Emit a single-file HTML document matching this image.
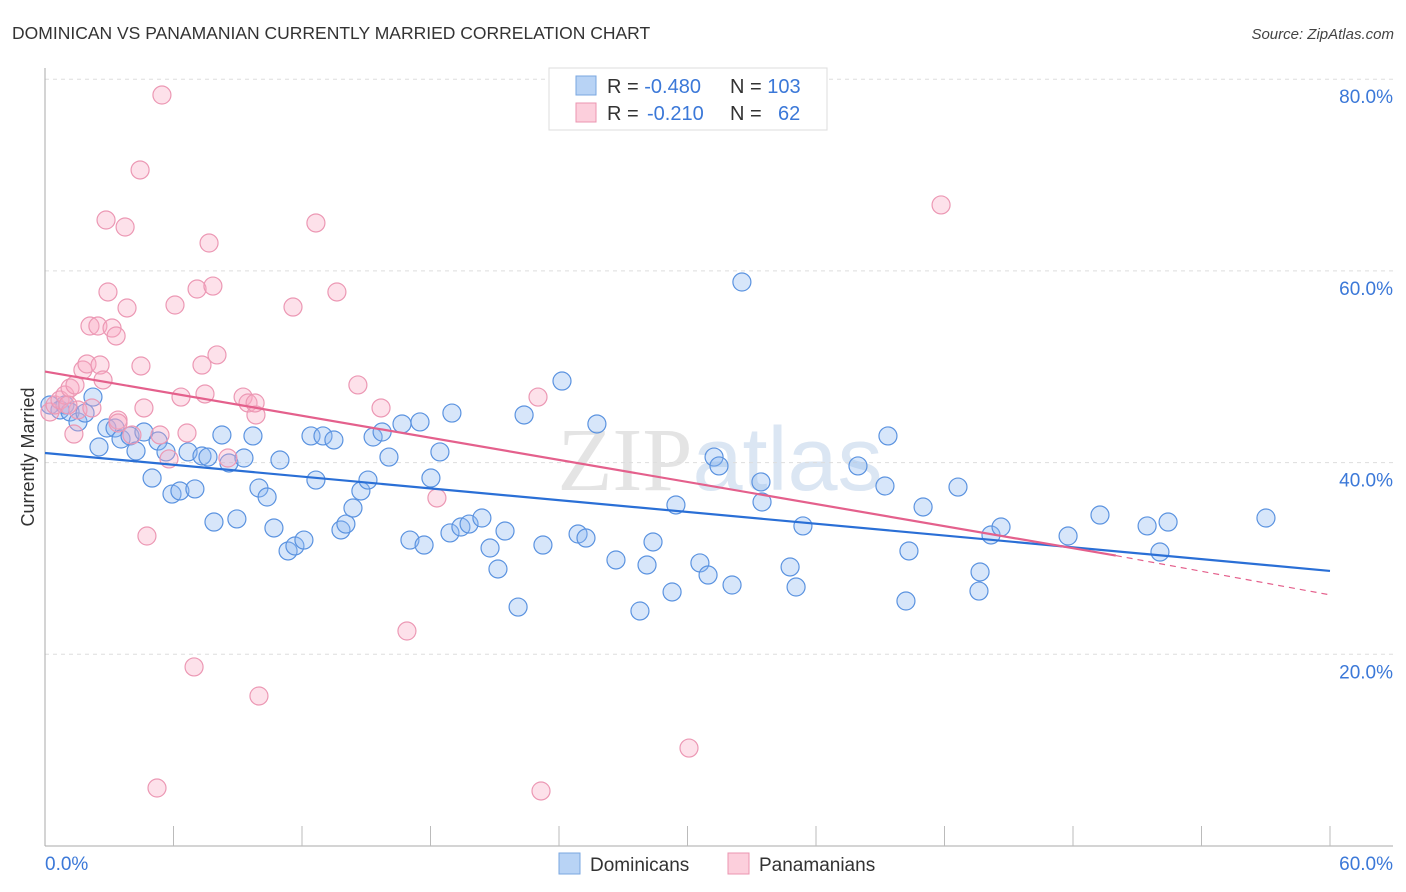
<!DOCTYPE html>
<html><head><meta charset="utf-8"><style>
body{margin:0;background:#fff;font-family:"Liberation Sans",sans-serif;}
svg{display:block}
</style></head><body>
<svg id="chart" width="1406" height="892" viewBox="0 0 1406 892" xmlns="http://www.w3.org/2000/svg">
<text x="12" y="39" font-size="17.5" fill="#333">DOMINICAN VS PANAMANIAN CURRENTLY MARRIED CORRELATION CHART</text>
<text x="1394" y="39" font-size="15" fill="#444" font-style="italic" text-anchor="end">Source: ZipAtlas.com</text>
<text x="720" y="490" font-size="90" fill="#e4e4e4" text-anchor="middle" font-family="Liberation Serif">ZIP<tspan fill="#dbe6f3" font-family="Liberation Sans">atlas</tspan></text>
<g id="grid"></g>
<g id="axes"></g>
<g id="pts"></g>
<g id="trends"></g>
<text transform="translate(34,457) rotate(-90)" font-size="18" fill="#333" text-anchor="middle">Currently Married</text>
<g>
<rect x="549" y="68" width="278" height="62" fill="#fff" stroke="#ddd"/>
<rect x="576" y="76" width="20" height="19" fill="#b8d3f5" stroke="#7aa7e0"/>
<rect x="576" y="103" width="20" height="19" fill="#fccfdc" stroke="#eb95b0"/>
<text x="607" y="93" font-size="20" fill="#333">R = <tspan fill="#3b78d8">-0.480</tspan><tspan x="730">N = </tspan><tspan fill="#3b78d8">103</tspan></text>
<text x="607" y="120" font-size="20" fill="#333">R = <tspan x="647" fill="#3b78d8">-0.210</tspan><tspan x="730">N = </tspan><tspan x="778" fill="#3b78d8">62</tspan></text>
</g>
<g>
<rect x="559" y="853" width="21" height="21" fill="#b8d3f5" stroke="#7aa7e0"/>
<text x="590" y="871" font-size="19" fill="#333">Dominicans</text>
<rect x="728" y="853" width="21" height="21" fill="#fccfdc" stroke="#eb95b0"/>
<text x="759" y="871" font-size="19" fill="#333">Panamanians</text>
</g>
</svg>
<script>
const yTicks=[20,40,60,80];
const xTickLabels=["0.0%","60.0%"];
const bluePx=[[50,405],[60,410],[65,405],[70,412],[78,422],[85,413],[93,397],[99,447],[107,428],[115,428],[121,439],[130,436],[136,451],[144,432],[152,478],[158,441],[166,452],[172,494],[180,491],[188,452],[195,489],[202,456],[208,457],[214,522],[222,435],[229,463],[237,519],[244,458],[253,436],[259,488],[267,497],[274,528],[280,460],[288,551],[295,546],[304,540],[311,436],[316,480],[323,436],[334,440],[341,530],[346,524],[353,508],[361,491],[368,480],[373,437],[382,432],[389,457],[402,424],[410,540],[420,422],[424,545],[431,478],[440,452],[452,413],[450,533],[461,527],[469,524],[482,518],[490,548],[498,569],[505,531],[518,607],[524,415],[543,545],[562,381],[578,534],[586,538],[597,424],[616,560],[640,611],[647,565],[653,542],[672,592],[676,505],[700,563],[708,575],[714,457],[719,466],[732,585],[742,282],[761,482],[762,502],[790,567],[796,587],[803,526],[858,466],[885,486],[888,436],[906,601],[909,551],[923,507],[958,487],[980,572],[979,591],[991,535],[1001,527],[1068,536],[1100,515],[1147,526],[1160,552],[1168,522],[1266,518]];
const pinkPx=[[50,412],[55,405],[60,400],[65,395],[70,388],[75,385],[78,410],[83,370],[87,364],[92,408],[74,434],[90,326],[98,326],[100,365],[106,220],[108,292],[112,328],[116,336],[118,420],[125,227],[127,308],[132,435],[140,170],[141,366],[144,408],[147,536],[157,788],[160,435],[162,95],[169,459],[175,305],[181,397],[187,433],[194,667],[197,289],[202,365],[205,394],[209,243],[213,286],[217,355],[228,458],[243,397],[248,403],[256,415],[255,403],[259,696],[293,307],[316,223],[337,292],[358,385],[381,408],[407,631],[437,498],[538,397],[541,791],[689,748],[941,205],[118,423],[103,380],[68,405]];
const blueX=bluePx.map(p=>+((p[0]-45)*60/1285).toFixed(2));
const blueY=bluePx.map(p=>+((846-p[1])/9.585).toFixed(2));
const pinkX=pinkPx.map(p=>+((p[0]-45)*60/1285).toFixed(2));
const pinkY=pinkPx.map(p=>+((846-p[1])/9.585).toFixed(2));
const blueTrend=[41.0,28.7];
const pinkTrend=[49.5,30.3,26.2];
const X=v=>45+v*1285/60, Y=v=>846-v*9.585;
const NS="http://www.w3.org/2000/svg";
function mk(tag,attrs,parent){const e=document.createElementNS(NS,tag);for(const k in attrs)e.setAttribute(k,attrs[k]);parent.appendChild(e);return e;}
const grid=document.getElementById('grid'),axes=document.getElementById('axes'),pts=document.getElementById('pts'),tr=document.getElementById('trends');
yTicks.forEach(t=>{
 const l=mk('line',{x1:45,y1:Y(t),x2:1393,y2:Y(t),stroke:'#ddd','stroke-dasharray':'4,4'},grid);
 
 
 const tx=mk('text',{x:1393,y:Y(t)+24,'font-size':19,fill:'#3b78d8','text-anchor':'end'},axes);
 tx.textContent=t.toFixed(1)+'%';
 
 
});
const ya=mk('line',{x1:45,y1:68,x2:45,y2:846,stroke:'#aaa'},axes);


const xa=mk('line',{x1:45,y1:846,x2:1393,y2:846,stroke:'#aaa'},axes);


for(let i=1;i<=10;i++){const t=mk('line',{x1:X(i*6),y1:826,x2:X(i*6),y2:846,stroke:'#bbb'},axes);
 
 }
const xl0=mk('text',{x:45,y:870,'font-size':19,fill:'#3b78d8'},axes);xl0.textContent=xTickLabels[0];


const xl1=mk('text',{x:1393,y:870,'font-size':19,fill:'#3b78d8','text-anchor':'end'},axes);xl1.textContent=xTickLabels[1];


blueX.forEach((v,i)=>{const c=mk('circle',{cx:X(v),cy:Y(blueY[i]),r:9,fill:'rgba(140,184,240,0.35)',stroke:'#5b93e0','stroke-width':1.2},pts);
 
 });
pinkX.forEach((v,i)=>{const c=mk('circle',{cx:X(v),cy:Y(pinkY[i]),r:9,fill:'rgba(248,170,195,0.35)',stroke:'#ec98b4','stroke-width':1.2},pts);
 
 });
const bt=mk('line',{x1:X(0),y1:Y(blueTrend[0]),x2:X(60),y2:Y(blueTrend[1]),stroke:'#2a6fd6','stroke-width':2.2},tr);


const pt=mk('line',{x1:X(0),y1:Y(pinkTrend[0]),x2:X(50),y2:Y(pinkTrend[1]),stroke:'#e4608c','stroke-width':2.2},tr);


const pd=mk('line',{x1:X(50),y1:Y(pinkTrend[1]),x2:X(60),y2:Y(pinkTrend[2]),stroke:'#e4608c','stroke-width':1.2,'stroke-dasharray':'6,5'},tr);


</script>
</body></html>
